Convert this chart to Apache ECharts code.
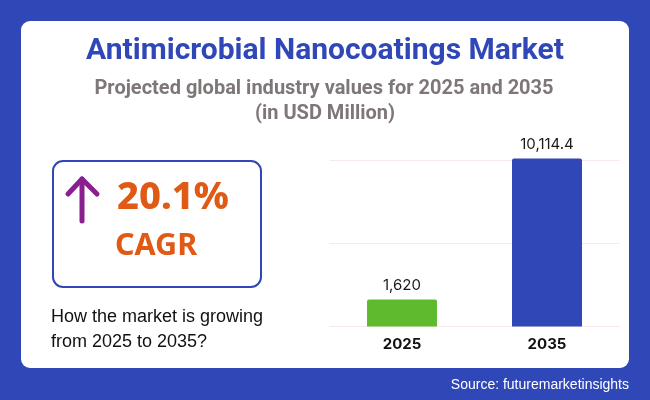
<!DOCTYPE html>
<html>
<head>
<meta charset="utf-8">
<style>
  html, body { margin: 0; padding: 0; background: #3047b8; }
  #chart { width: 650px; height: 400px; }
</style>
<script src="https://cdn.jsdelivr.net/npm/echarts@6/dist/echarts.min.js"></script>
</head>
<body>
<div id="chart"></div>
<script>
var years = ['2025', '2035'];
var values = [1620, 10114.4];
var valueLabels = ['1,620', '10,114.4'];
var barColors = ['#5fba2e', '#3047b8'];

var chart = echarts.init(document.getElementById('chart'), null, { renderer: 'canvas' });

chart.setOption({
  animation: false,
  backgroundColor: '#3047b8',
  grid: { left: 329.5, right: 30.5, top: 160.5, bottom: 73.5 },
  xAxis: {
    type: 'category',
    data: years,
    axisLine: { show: false },
    axisTick: { show: false },
    z: 5,
    axisLabel: {
      color: '#111',
      fontFamily: 'Inter',
      fontWeight: 700,
      fontSize: 15,
      margin: 10
    }
  },
  yAxis: {
    type: 'value',
    min: 0,
    max: 10000,
    interval: 5000,
    axisLabel: { show: false },
    axisLine: { show: false },
    axisTick: { show: false },
    splitLine: { lineStyle: { color: '#f8e8e8', width: 1 } }
  },
  series: [{
    type: 'bar',
    clip: false,
    barWidth: 70,
    z: 3,
    data: values.map(function(v, i) {
      return { value: v, itemStyle: { color: barColors[i], borderRadius: [2, 2, 0, 0] } };
    }),
    label: {
      show: true,
      position: 'top',
      distance: 7,
      color: '#1a1a1a',
      fontFamily: 'Inter',
      fontSize: 15,
      formatter: function(p) { return valueLabels[p.dataIndex]; }
    }
  }],
  graphic: [
    { type: 'rect', z: -10, silent: true, shape: { x: 21, y: 21, width: 608, height: 347, r: 9 }, style: { fill: '#fff' } },
    { type: 'rect', z: 1, silent: true, shape: { x: 53, y: 161, width: 208, height: 126, r: 10 }, style: { fill: '#fff', stroke: '#3047b8', lineWidth: 2 } },
    { type: 'polyline', z: 2, silent: true, shape: { points: [[82, 221], [82, 179]] }, style: { stroke: '#8a1f8f', lineWidth: 5, lineCap: 'round', fill: null } },
    { type: 'polyline', z: 2, silent: true, shape: { points: [[68, 194], [82, 179], [97, 194]] }, style: { stroke: '#8a1f8f', lineWidth: 5, lineCap: 'round', lineJoin: 'round', fill: null } },
    { type: 'text', z: 2, silent: true, style: { x: 325, y: 51.5, text: 'Antimicrobial Nanocoatings Market', fill: '#3047b8', font: '700 30px Roboto', align: 'center', verticalAlign: 'middle' } },
    { type: 'text', z: 2, silent: true, style: { x: 324, y: 88.5, text: 'Projected global industry values for 2025 and 2035', fill: '#7f7777', font: '700 20px Roboto', align: 'center', verticalAlign: 'middle' } },
    { type: 'text', z: 2, silent: true, style: { x: 325, y: 113.5, text: '(in USD Million)', fill: '#7f7777', font: '700 20px Roboto', align: 'center', verticalAlign: 'middle' } },
    { type: 'text', z: 2, silent: true, style: { x: 117, y: 198, text: '20.1%', fill: '#e05a16', font: '800 38px "Noto Sans"', align: 'left', verticalAlign: 'middle' } },
    { type: 'text', z: 2, silent: true, style: { x: 115, y: 246, text: 'CAGR', fill: '#e05a16', font: '700 30.5px "Noto Sans"', align: 'left', verticalAlign: 'middle' } },
    { type: 'text', z: 2, silent: true, style: { x: 51, y: 317, text: 'How the market is growing', fill: '#111', font: '18px "Liberation Sans"', align: 'left', verticalAlign: 'middle' } },
    { type: 'text', z: 2, silent: true, style: { x: 51, y: 342, text: 'from 2025 to 2035?', fill: '#111', font: '18px "Liberation Sans"', align: 'left', verticalAlign: 'middle' } },
    { type: 'text', z: 2, silent: true, style: { x: 629, y: 385, text: 'Source: futuremarketinsights', fill: '#fff', font: '14px "Liberation Sans"', align: 'right', verticalAlign: 'middle' } }
  ]
});
</script>
</body>
</html>
